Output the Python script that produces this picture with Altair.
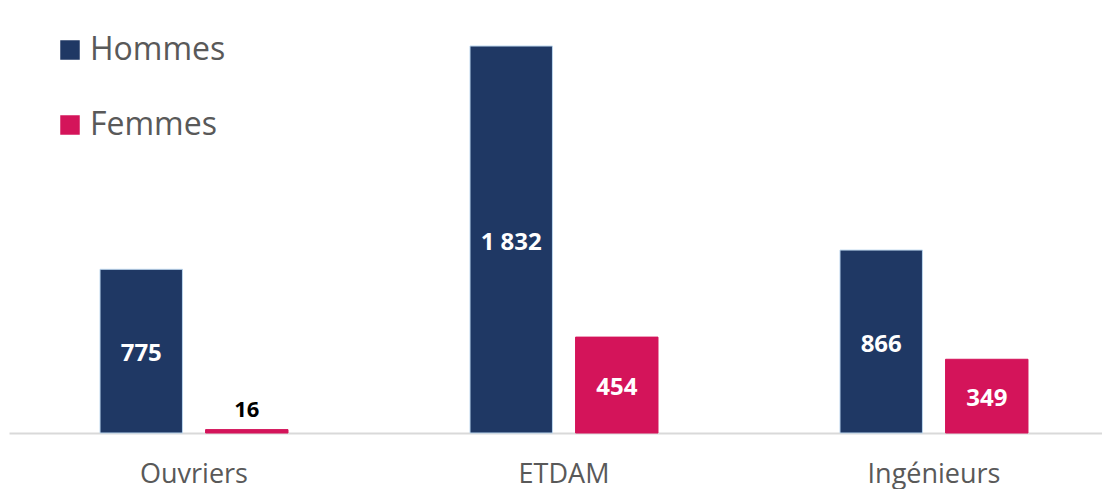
import altair as alt
import pandas as pd

categories = ["Ouvriers", "ETDAM", "Ingénieurs"]
series = ["Hommes", "Femmes"]
hommes = [775, 1832, 866]
femmes = [16, 454, 349]
colors = ["#1F3864", "#D4145A"]

rows = []
for c, h, f in zip(categories, hommes, femmes):
    rows.append({"cat": c, "genre": "Hommes", "value": h})
    rows.append({"cat": c, "genre": "Femmes", "value": f})
df = pd.DataFrame(rows)
df["label"] = df["value"].map(lambda v: f"{v:,}".replace(",", " "))
df["half"] = df["value"] / 2

FONT = "Open Sans"

xscale = alt.Scale(range=[1, 1111], paddingInner=0.4919, paddingOuter=0.246)
x = alt.X("cat:N", sort=categories, title=None, scale=xscale,
          axis=alt.Axis(labelAngle=0, labelFontSize=27, labelColor="#595959", labelFont=FONT,
                        ticks=False, domainColor="#D9D9D9", domainWidth=2, labelPadding=28))
xoff = alt.XOffset("genre:N", sort=series, scale=alt.Scale(paddingInner=23/105, paddingOuter=0))
yscale = alt.Scale(domain=[0, 2012], nice=False, zero=True)

base = alt.Chart(df)

bars = base.mark_bar().encode(
    x=x,
    xOffset=xoff,
    y=alt.Y("value:Q", scale=yscale, axis=None),
    color=alt.Color("genre:N", sort=series,
                    scale=alt.Scale(domain=series, range=colors),
                    legend=alt.Legend(title=None, orient="none", legendX=46, legendY=26,
                                      symbolType="square", symbolSize=380, symbolStrokeWidth=0,
                                      labelFontSize=32, labelFont=FONT, labelColor="#595959",
                                      rowPadding=43, labelOffset=4, symbolOpacity=1)),
    stroke=alt.condition(alt.datum.genre == "Hommes", alt.value("#BDD7EE"), alt.value("#D4145A")),
    strokeWidth=alt.value(1),
)

inside = base.transform_filter(alt.datum.value >= 100).mark_text(
    color="white", fontWeight="bold", fontSize=24, font=FONT, baseline="middle", dy=3
).encode(
    x=alt.X("cat:N", sort=categories, scale=xscale),
    xOffset=xoff,
    y=alt.Y("half:Q", scale=yscale),
    text="label:N",
)

above = base.transform_filter(alt.datum.value < 100).mark_text(
    color="black", fontWeight="bold", fontSize=22, font=FONT, baseline="bottom", dy=-8
).encode(
    x=alt.X("cat:N", sort=categories, scale=xscale),
    xOffset=xoff,
    y=alt.Y("value:Q", scale=yscale),
    text="label:N",
)

chart = alt.layer(bars, inside, above).properties(
    width=1094, height=425,
    autosize=alt.AutoSizeParams(type="none"),
    padding={"left": 0, "top": 0, "right": 0, "bottom": 56},
).configure_view(stroke=None)

chart.save("out.html", embed_options={"renderer": "svg", "actions": False})
